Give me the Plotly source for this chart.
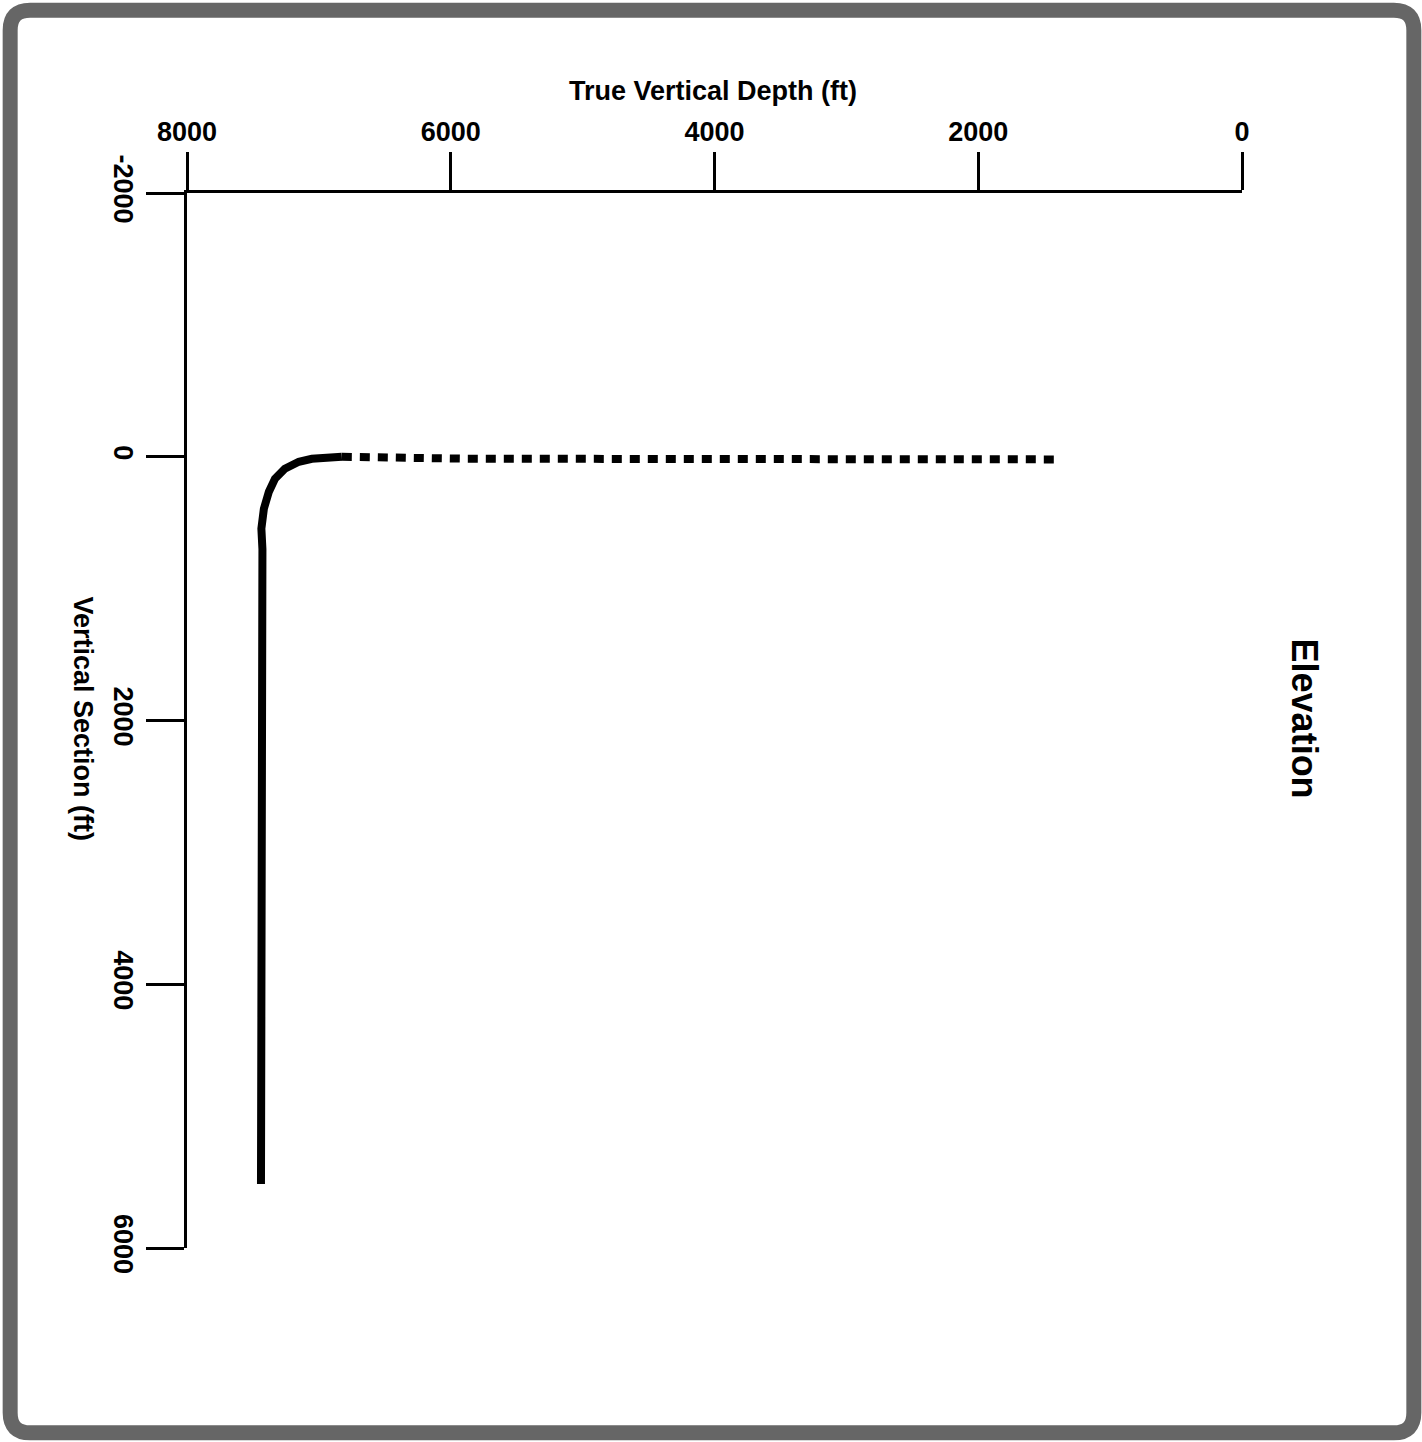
import plotly.graph_objects as go

# ---- data ----
tvd_ticks = [8000, 6000, 4000, 2000, 0]
vs_ticks = [-2000, 0, 2000, 4000, 6000]

# build section + lateral (solid)
tvd_solid = [6826, 6955, 7053, 7152, 7258, 7333, 7379, 7417, 7436, 7428,
             7428, 7439, 7439, 7428, 7428, 7439, 7439, 7428, 7428, 7439, 7439]
vs_solid = [0, 0, 15, 38, 91, 167, 265, 394, 545, 700,
            2182, 2182, 2902, 2902, 3045, 3045, 3886, 3886, 5136, 5136, 5515]

# vertical section of the well (dotted)
tvd_dot = [6826, 5930, 5880, 1424]
vs_dot = [0, 0, 15, 20]

# ---- layout geometry (pixels) ----
W, H = 1422, 1442
L, R, T, B = 186.5, 1242.5, 192.5, 1248.5
PW, PH = R - L, B - T


def px(xp):
    return (xp - L) / PW


def py(yp):
    return (B - yp) / PH


FONT = "Liberation Sans, Arial, Helvetica, sans-serif"

fig = go.Figure()
fig.add_trace(go.Scatter(x=tvd_dot, y=vs_dot, mode="lines",
                         line=dict(color="black", width=8, dash="10px,8px"),
                         hoverinfo="skip", showlegend=False))
fig.add_trace(go.Scatter(x=tvd_solid, y=vs_solid, mode="lines",
                         line=dict(color="black", width=8),
                         hoverinfo="skip", showlegend=False))

axis_common = dict(showgrid=False, zeroline=False, showline=True, linecolor="black",
                   linewidth=3, ticks="outside", ticklen=38, tickwidth=3,
                   tickcolor="black",
                   tickfont=dict(family=FONT, size=27, color="black", weight="bold"))

fig.update_xaxes(range=[8000, 0], side="top", tickvals=tvd_ticks,
                 ticktext=[str(v) for v in tvd_ticks], **axis_common)
fig.update_yaxes(range=[6000, -2000], tickvals=vs_ticks,
                 ticktext=[str(v) for v in vs_ticks], tickangle=90, **axis_common)

# rounded frame
x0, y0, x1, y1, r = 9.5, 9.5, 1414.5, 1433.5, 20
path = (f"M {px(x0 + r)} {py(y0)} L {px(x1 - r)} {py(y0)} "
        f"Q {px(x1)} {py(y0)} {px(x1)} {py(y0 + r)} "
        f"L {px(x1)} {py(y1 - r)} Q {px(x1)} {py(y1)} {px(x1 - r)} {py(y1)} "
        f"L {px(x0 + r)} {py(y1)} Q {px(x0)} {py(y1)} {px(x0)} {py(y1 - r)} "
        f"L {px(x0)} {py(y0 + r)} Q {px(x0)} {py(y0)} {px(x0 + r)} {py(y0)} Z")
fig.add_shape(type="path", path=path, xref="paper", yref="paper",
              line=dict(color="#666666", width=15), layer="above")

fig.add_annotation(text="True Vertical Depth (ft)", xref="paper", yref="paper",
                   x=px(713), y=py(90), showarrow=False, xanchor="center", yanchor="middle",
                   font=dict(family=FONT, size=27, color="black", weight="bold"))
fig.add_annotation(text="Vertical Section (ft)", xref="paper", yref="paper",
                   x=px(82), y=py(719), showarrow=False, xanchor="center", yanchor="middle",
                   textangle=90,
                   font=dict(family=FONT, size=27, color="black", weight="bold"))
fig.add_annotation(text="Elevation", xref="paper", yref="paper",
                   x=px(1306), y=py(719), showarrow=False, xanchor="center", yanchor="middle",
                   textangle=90,
                   font=dict(family=FONT, size=36, color="black", weight="bold"))

fig.update_layout(width=W, height=H, margin=dict(l=L, r=W - R, t=T, b=H - B),
                  paper_bgcolor="white", plot_bgcolor="white")

fig.write_html("out.html", config={"displayModeBar": False},
               post_script="document.body.style.margin='0';document.body.style.padding='0';")
